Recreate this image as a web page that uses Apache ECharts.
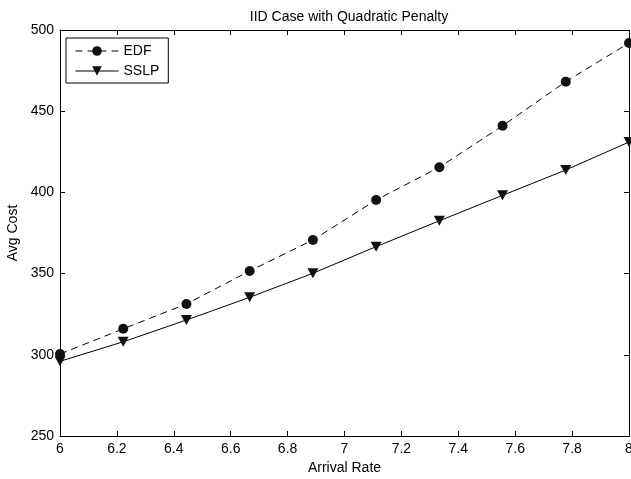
<!DOCTYPE html>
<html>
<head>
<meta charset="utf-8">
<script src="https://cdn.jsdelivr.net/npm/echarts@6/dist/echarts.min.js"></script>
<style>
  html, body { margin: 0; padding: 0; background: #fff; }
  #chart { width: 631px; height: 479px; }
</style>
</head>
<body>
<div id="chart"></div>
<script>
// Arrival rates (x) and average cost for each policy
const arrivalRates = [6, 6.2222, 6.4444, 6.6667, 6.8889, 7.1111, 7.3333, 7.5556, 7.7778, 8];
const edfCost  = [300.5, 316, 331.3, 351.6, 370.7, 395.3, 415.5, 441, 468.2, 492];
const sslpCost = [296, 308, 321.4, 335.4, 350.2, 366.6, 382.5, 398.2, 413.8, 431];

const xTicks = { min: 6, max: 8, interval: 0.2 };
const yTicks = { min: 250, max: 500, interval: 50 };

const FONT = 'Liberation Sans, Arial, sans-serif';
const FS = 14;
const INK = '#000';

const pairs = (xs, ys) => xs.map((x, i) => [x, ys[i]]);

const chart = echarts.init(document.getElementById('chart'), null, { renderer: 'canvas' });

const baseAxis = {
  axisLine: { show: true, onZero: false, lineStyle: { color: INK, width: 1 } },
  axisTick: { show: true, inside: true, length: 5, lineStyle: { color: INK, width: 1 } },
  splitLine: { show: false },
  axisLabel: { color: INK, fontFamily: FONT, fontSize: FS }
};

chart.setOption({
  backgroundColor: '#fff',
  animation: false,
  title: {
    text: 'IID Case with Quadratic Penalty',
    left: 344,
    top: 5,
    textAlign: 'center',
    textStyle: { color: INK, fontFamily: FONT, fontSize: FS, fontWeight: 'normal' }
  },
  // fixed plot box; labels at the edge may run past the canvas
  grid: { left: 60, right: 2, top: 30, bottom: 43, outerBoundsMode: 'none' },
  legend: {
    orient: 'vertical',
    left: 66,
    top: 38,
    padding: [6, 9, 5, 9],
    itemGap: 6,
    itemWidth: 43,
    itemHeight: 12,
    borderColor: INK,
    borderWidth: 1,
    borderRadius: 0,
    backgroundColor: '#fff',
    lineStyle: { width: 1 },
    textStyle: { color: INK, fontFamily: FONT, fontSize: FS },
    data: ['EDF', 'SSLP']
  },
  xAxis: [
    Object.assign({}, baseAxis, {
      type: 'value',
      min: xTicks.min, max: xTicks.max, interval: xTicks.interval,
      name: 'Arrival Rate',
      nameLocation: 'middle',
      nameGap: 23,
      nameTextStyle: { color: INK, fontFamily: FONT, fontSize: FS },
      axisLabel: Object.assign({}, baseAxis.axisLabel, { margin: 6 })
    }),
    Object.assign({}, baseAxis, {
      type: 'value', position: 'top',
      min: xTicks.min, max: xTicks.max, interval: xTicks.interval,
      axisLabel: { show: false }
    })
  ],
  yAxis: [
    Object.assign({}, baseAxis, {
      type: 'value',
      min: yTicks.min, max: yTicks.max, interval: yTicks.interval,
      name: 'Avg Cost',
      nameLocation: 'middle',
      nameGap: 40,
      nameTextStyle: { color: INK, fontFamily: FONT, fontSize: FS },
      axisLabel: Object.assign({}, baseAxis.axisLabel, { margin: 6 })
    }),
    Object.assign({}, baseAxis, {
      type: 'value', position: 'right',
      min: yTicks.min, max: yTicks.max, interval: yTicks.interval,
      axisLabel: { show: false }
    })
  ],
  series: [
    {
      name: 'EDF',
      type: 'line',
      data: pairs(arrivalRates, edfCost),
      clip: false,
      symbol: 'circle',
      symbolSize: 10,
      itemStyle: { color: '#111' },
      lineStyle: { color: INK, width: 1, type: [7, 5] }
    },
    {
      name: 'SSLP',
      type: 'line',
      data: pairs(arrivalRates, sslpCost),
      clip: false,
      symbol: 'triangle',
      symbolRotate: 180,
      symbolSize: [11, 10],
      itemStyle: { color: '#111' },
      lineStyle: { color: INK, width: 1, type: 'solid' }
    }
  ]
});
</script>
</body>
</html>
